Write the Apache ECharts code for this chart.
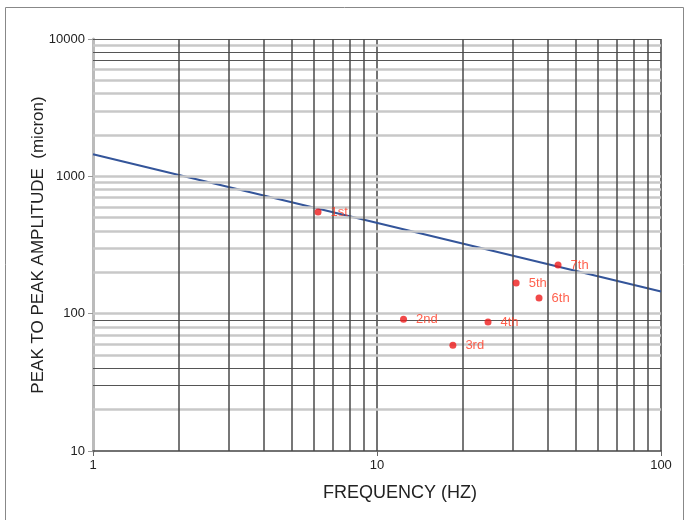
<!DOCTYPE html>
<html>
<head>
<meta charset="utf-8">
<style>
  html, body { margin: 0; padding: 0; background: #fff; }
  #chart { width: 686px; height: 520px; }
</style>
<script src="https://cdn.jsdelivr.net/npm/echarts@6/dist/echarts.min.js"></script>
</head>
<body>
<div id="chart"></div>
<script>
  // measured points (frequency Hz, amplitude micron)
  const modeNames = ['1st', '2nd', '3rd', '4th', '5th', '6th', '7th']
  const modeFreq = [6.2, 12.4, 18.5, 24.6, 30.9, 37.2, 43.4]
  const modeAmp = [550, 91, 59, 87, 167, 130, 226]

  // limit curve
  const limitFreq = [1, 100]
  const limitAmp = [1450, 145]

  // grid lines (log paper)
  const xMinorLines = [2, 3, 4, 5, 6, 7, 8, 9, 20, 30, 40, 50, 60, 70, 80, 90]
  const yGreyLines = [9000, 6000, 5000, 4000, 3000, 2000,
    1000, 900, 800, 700, 600, 500, 400, 300, 200,
    100, 80, 70, 60, 50, 20]
  const yDarkLines = [10000, 8000, 7000, 90, 40, 30]

  const chart = echarts.init(document.getElementById('chart'))

  const font = '"Liberation Sans", Arial, sans-serif'

  function gridLines(axis, values, color, width) {
    return {
      type: 'line',
      data: [],
      silent: true,
      z: 0,
      markLine: {
        silent: true,
        symbol: 'none',
        animation: false,
        label: { show: false },
        lineStyle: { color: color, width: width, type: 'solid' },
        data: values.map(v => ({ [axis]: v }))
      }
    }
  }

  chart.setOption({
    animation: false,
    textStyle: { fontFamily: font },
    graphic: [{
      type: 'rect',
      shape: { x: 5.5, y: 7.5, width: 678, height: 530 },
      style: { fill: 'none', stroke: '#888', lineWidth: 1 },
      silent: true
    }],
    grid: { left: 93, right: 25, top: 39, bottom: 69 },
    xAxis: {
      type: 'log',
      logBase: 10,
      min: 1,
      max: 100,
      name: 'FREQUENCY (HZ)',
      nameLocation: 'middle',
      nameGap: 33,
      nameMoveOverlap: false,
      nameTextStyle: { fontSize: 18, color: '#222', fontFamily: font, padding: [0, 0, 0, 46] },
      axisLine: { lineStyle: { color: '#444', width: 1.5 } },
      axisTick: { show: true, length: 5, lineStyle: { color: '#666' } },
      axisLabel: { fontSize: 13, color: '#222', margin: 8, formatter: v => String(v) },
      splitLine: { show: true, lineStyle: { color: '#444', width: 1.5 } }
    },
    yAxis: {
      type: 'log',
      logBase: 10,
      min: 10,
      max: 10000,
      name: 'PEAK TO PEAK AMPLITUDE  (micron)',
      nameLocation: 'middle',
      nameGap: 46,
      nameMoveOverlap: false,
      nameTextStyle: { fontSize: 17, color: '#222', fontFamily: font },
      axisLine: { lineStyle: { color: '#bbb', width: 3 } },
      axisTick: { show: true, length: 5, lineStyle: { color: '#999' } },
      axisLabel: { fontSize: 13, color: '#222', margin: 8, formatter: v => String(v) },
      splitLine: { show: false }
    },
    series: [
      gridLines('yAxis', yGreyLines, '#c8c8c8', 2.5),
      gridLines('yAxis', yDarkLines, '#555', 1.2),
      gridLines('xAxis', xMinorLines, '#4a4a4a', 1.5),
      {
        name: 'limit',
        type: 'line',
        z: 3,
        symbol: 'none',
        lineStyle: { color: '#34559a', width: 2 },
        data: limitFreq.map((f, i) => [f, limitAmp[i]])
      },
      {
        name: 'modes',
        type: 'scatter',
        z: 10,
        symbolSize: 7,
        itemStyle: { color: '#ee1c1c' },
        label: {
          show: true,
          position: 'right',
          distance: 9,
          color: '#ff3a22',
          textBorderWidth: 0,
          fontSize: 13,
          fontFamily: font,
          formatter: p => modeNames[p.dataIndex]
        },
        labelLayout: { hideOverlap: false },
        data: modeFreq.map((f, i) => [f, modeAmp[i]])
      }
    ]
  })
</script>
</body>
</html>
